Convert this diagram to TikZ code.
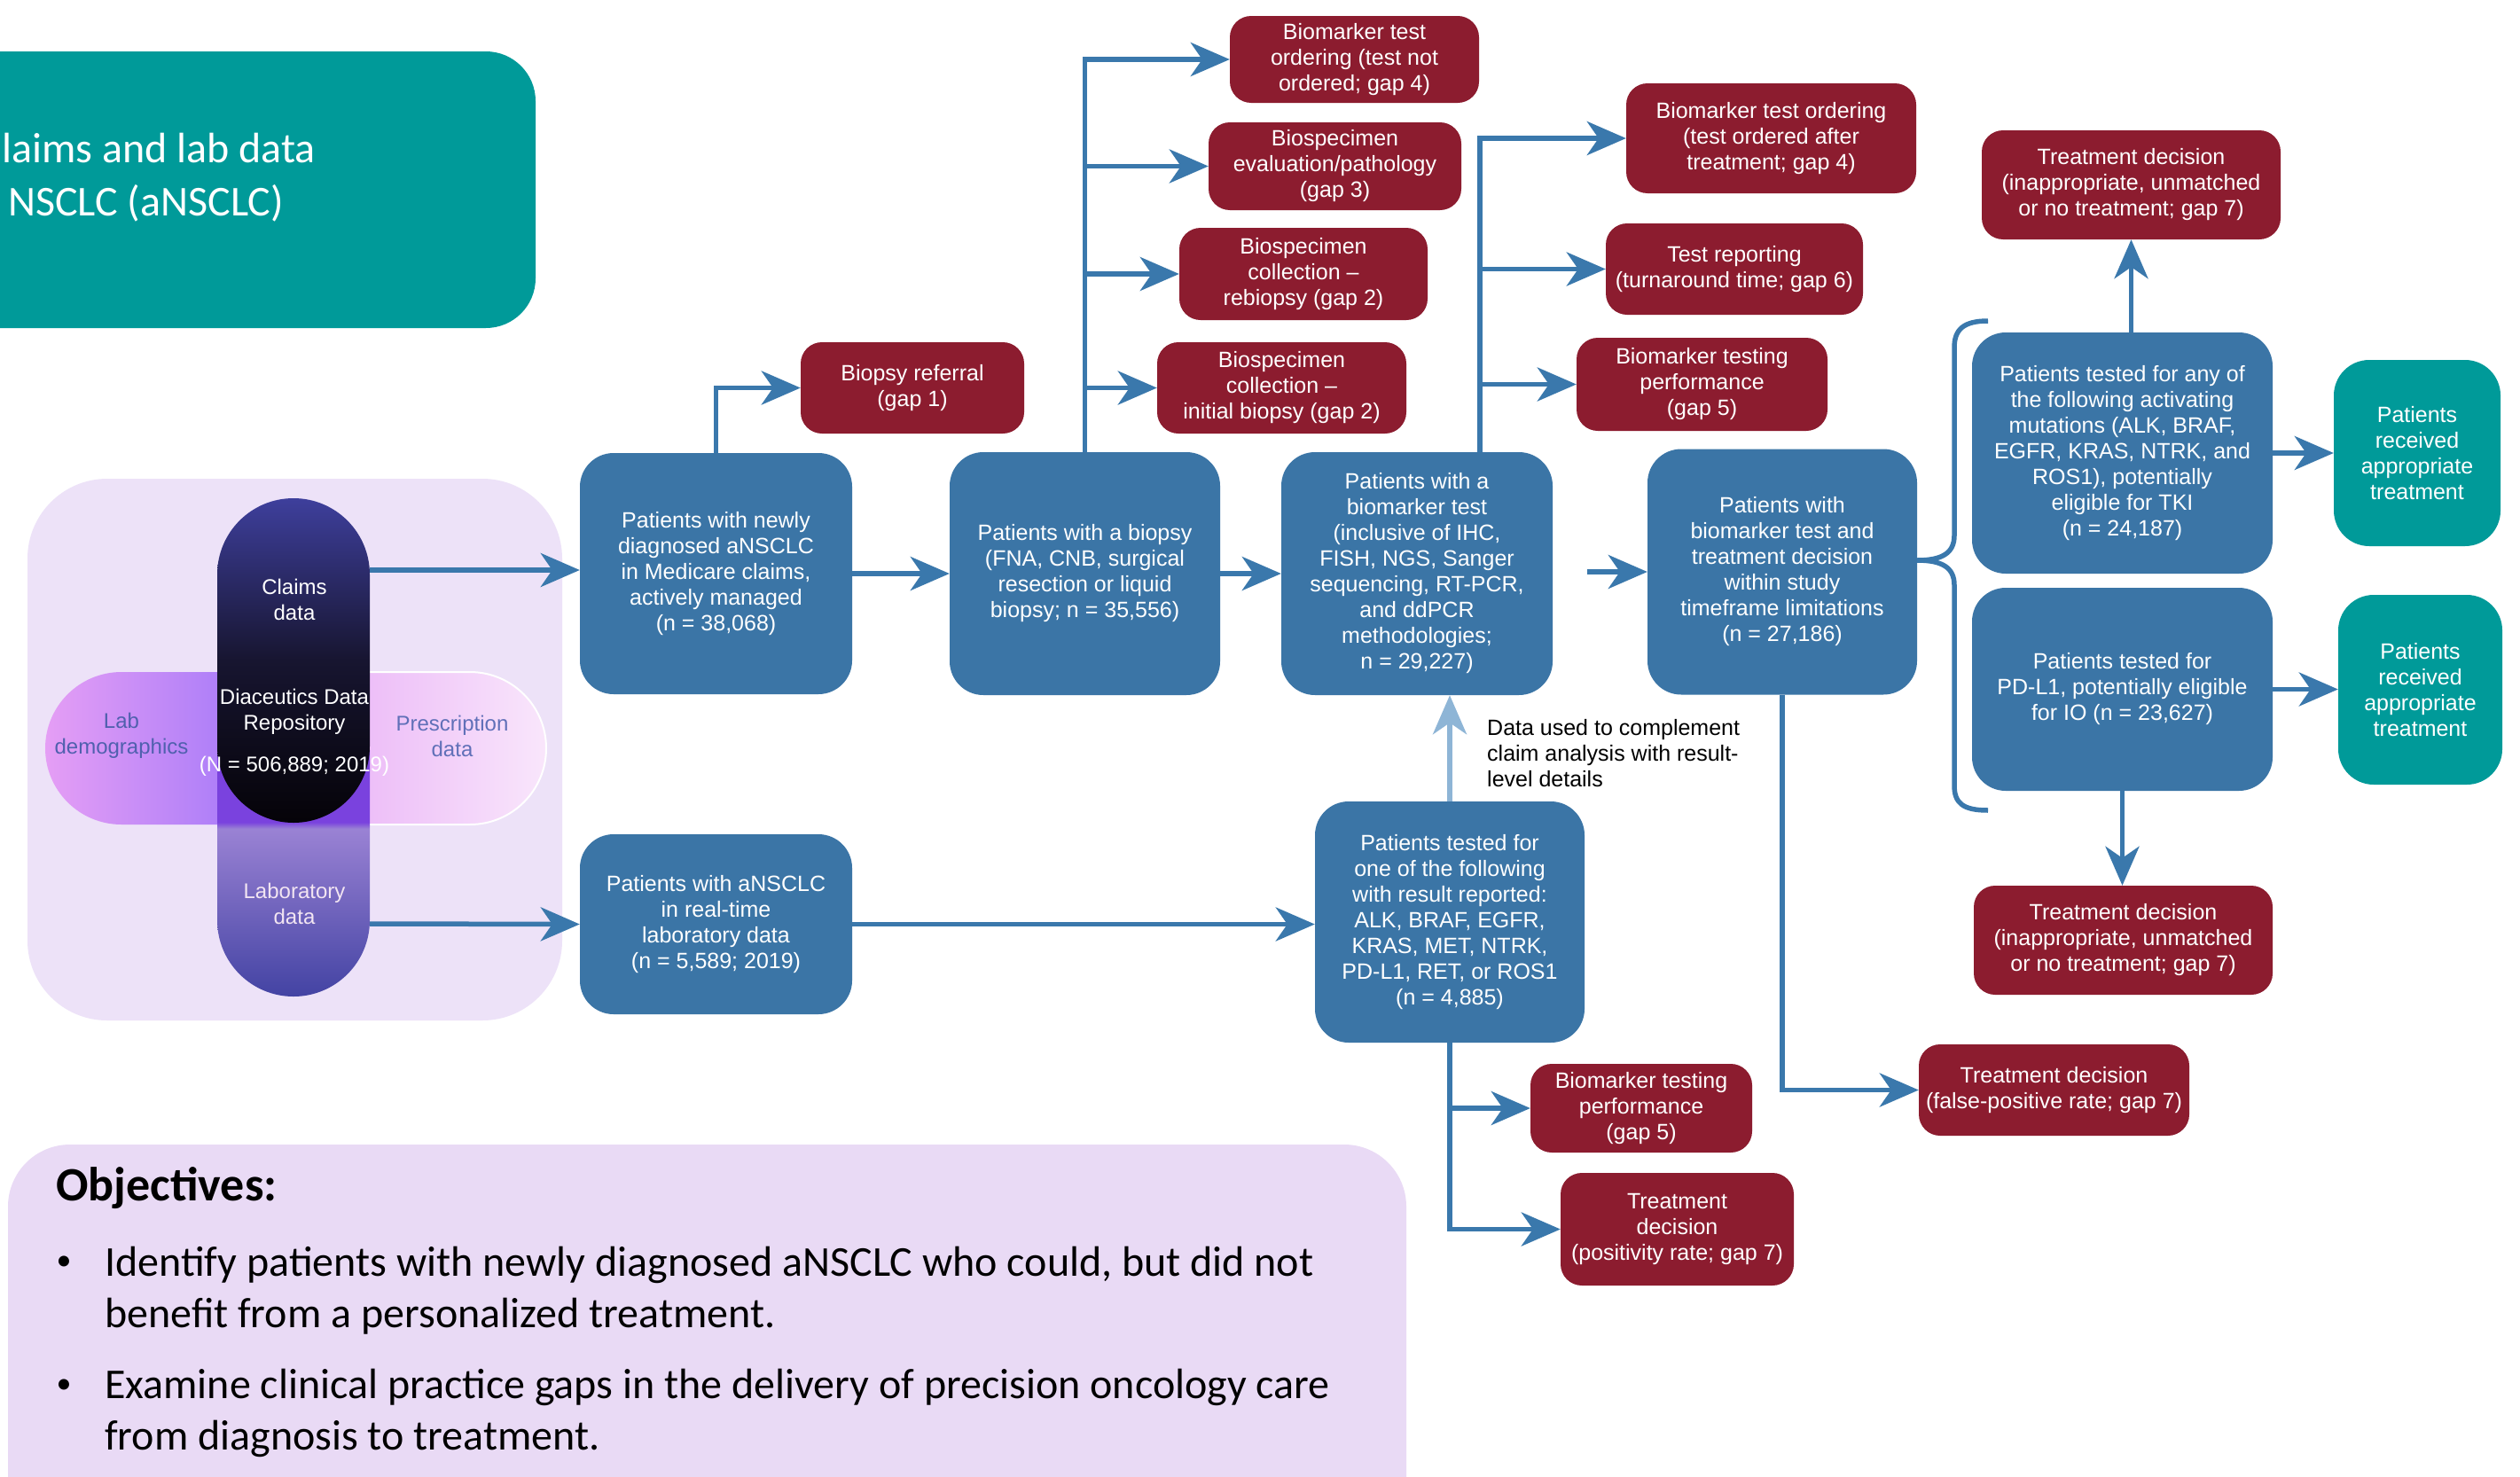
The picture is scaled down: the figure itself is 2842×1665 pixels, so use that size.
\documentclass[tikz,border=0pt]{standalone}
\usepackage{fontspec}
\setmainfont{Liberation Sans}
\newfontfamily\calibri{Carlito}
\usetikzlibrary{arrows.meta,calc}

\definecolor{boxblue}{HTML}{3B75A6}
\definecolor{arrowblue}{HTML}{3A78AC}
\definecolor{lightarrow}{HTML}{8EB5D6}
\definecolor{gapred}{HTML}{8C1C2F}
\definecolor{okteal}{HTML}{009A99}
\definecolor{panel}{HTML}{EDE2F8}
\definecolor{objbox}{HTML}{E9DAF5}
\definecolor{claimtop}{HTML}{3E3F9C}
\definecolor{claimmid}{HTML}{171530}
\definecolor{claimbot}{HTML}{050308}
\definecolor{sidetext}{HTML}{5060AE}
\definecolor{sidetextb}{HTML}{6070B8}
% horizontal pill colours
\definecolor{hA}{HTML}{E59EF5}
\definecolor{hB}{HTML}{B080F8}
\definecolor{hC}{HTML}{A070F5}
\definecolor{hD}{HTML}{EDBEF8}
\definecolor{hE}{HTML}{F9E6FB}
% laboratory pill colours
\definecolor{lA}{HTML}{4343A3}
\definecolor{lB}{HTML}{9A82D4}
\definecolor{lC}{HTML}{7A42DE}

\pgfdeclarehorizontalshading{hpill}{100bp}{color(0bp)=(hA); color(25bp)=(hA); color(42bp)=(hB); color(49.7bp)=(hC); color(49.8bp)=(hD); color(57bp)=(hD); color(75bp)=(hE); color(100bp)=(hE)}
\pgfdeclareverticalshading{labshade}{100bp}{color(0bp)=(lA); color(25bp)=(lA); color(51bp)=(lB); color(52bp)=(lC); color(75bp)=(lC); color(100bp)=(lC)}

\tikzset{
  boxtext/.style={align=center, text=white, font=\fontsize{25}{29}\selectfont, inner sep=0pt},
  bluebox/.style={boxtext, fill=boxblue, rounded corners=38pt},
  redbox/.style={boxtext, fill=gapred, rounded corners=24pt},
  tealbox/.style={boxtext, fill=okteal, rounded corners=40pt},
  pilltext/.style={align=center, font=\fontsize{24}{29}\selectfont, inner sep=0pt},
  conn/.style={draw=arrowblue, line width=5.5pt},
  arr/.style={conn, -{Stealth[length=44pt,width=38pt,inset=13pt]}},
  arrlight/.style={draw=lightarrow, line width=5.5pt, -{Stealth[length=44pt,width=38pt,inset=13pt]}},
}

\begin{document}
\begin{tikzpicture}[x=1pt,y=-1pt]
\useasboundingbox (0,0) rectangle (2842,1665);
\clip (0,0) rectangle (2842,1665);
\fill[white] (0,0) rectangle (2842,1665);

% title banner
\fill[okteal, rounded corners=56pt] (-80,58) rectangle (604,370);
\node[anchor=west, align=left, text=white, inner sep=0pt,
      font=\calibri\fontsize{48}{60}\selectfont] (title) at (2,200)
      {laims and lab data\\\hspace*{7pt}NSCLC (aNSCLC)};

% data sources panel
\fill[panel, rounded corners=90pt] (31,540) rectangle (634,1151);
\shade[shading=hpill, rounded corners=86pt] (51,758) rectangle (616,930);
\begin{scope}
  \clip (417,740) rectangle (640,950);
  \draw[white, line width=2pt, rounded corners=86pt] (51,758) rectangle (616,930);
\end{scope}
\shade[shading=labshade, rounded corners=86pt] (245,760) rectangle (417,1124);
\shade[top color=claimtop, bottom color=claimbot, middle color=claimmid, rounded corners=86pt] (245,562) rectangle (417,928);

\node[pilltext, text=white] (claimslbl) at (332,676) {Claims\\data};
\node[pilltext, text=white] (repo) at (332,803) {Diaceutics Data\\Repository};
\node[pilltext, text=white] (repon) at (332,864) {(N = 506,889; 2019)};
\node[pilltext, text=sidetext] (labdemo) at (137,830) {Lab\\demographics};
\node[pilltext, text=sidetextb] (rx) at (510,830) {Prescription\\data};
\node[pilltext, text=white!90!violet] (labdata) at (332,1019) {Laboratory\\data};

\coordinate (claimsout) at (417,643);
\coordinate (labout) at (417,1042);

% objectives panel
\fill[objbox, rounded corners=70pt] (9,1291) rectangle (1586,1760);
\node[anchor=west, inner sep=0pt, font=\calibri\bfseries\fontsize{54}{60}\selectfont] (objt) at (63,1340) {Objectives:};
\node[inner sep=0pt, font=\calibri\fontsize{34}{40}\selectfont] (bul1) at (72,1425) {\textbullet};
\node[anchor=west, align=left, inner sep=0pt, font=\calibri\fontsize{48}{58}\selectfont] (obj1) at (118,1456)
  {Identify patients with newly diagnosed aNSCLC who could, but did not\\benefit from a personalized treatment.};
\node[inner sep=0pt, font=\calibri\fontsize{34}{40}\selectfont] (bul2) at (72,1564) {\textbullet};
\node[anchor=west, align=left, inner sep=0pt, font=\calibri\fontsize{48}{58}\selectfont] (obj2) at (118,1594)
  {Examine clinical practice gaps in the delivery of precision oncology care\\from diagnosis to treatment.};

% patient cohorts
\node[bluebox, minimum width=307pt, minimum height=272pt] (b1) at (807.5,647)
  {Patients with newly\\diagnosed aNSCLC\\in Medicare claims,\\actively managed\\(n = 38,068)};
\node[bluebox, minimum width=305pt, minimum height=274pt] (b2) at (1223.5,647)
  {Patients with a biopsy\\(FNA, CNB, surgical\\resection or liquid\\biopsy; n = 35,556)};
\node[bluebox, minimum width=306pt, minimum height=274pt] (b3) at (1598,647)
  {Patients with a\\biomarker test\\(inclusive of IHC,\\FISH, NGS, Sanger\\sequencing, RT-PCR,\\and ddPCR\\methodologies;\\n = 29,227)};
\node[bluebox, minimum width=304pt, minimum height=277pt] (b4) at (2010,645)
  {Patients with\\biomarker test and\\treatment decision\\within study\\timeframe limitations\\(n = 27,186)};
\node[bluebox, minimum width=339pt, minimum height=272pt] (b5) at (2393.5,511)
  {Patients tested for any of\\the following activating\\mutations (ALK, BRAF,\\EGFR, KRAS, NTRK, and\\ROS1), potentially\\eligible for TKI\\(n = 24,187)};
\node[bluebox, minimum width=339pt, minimum height=229pt] (b6) at (2393.5,777.5)
  {Patients tested for\\PD-L1, potentially eligible\\for IO (n = 23,627)};
\node[bluebox, minimum width=307pt, minimum height=203pt] (b7) at (807.5,1042.5)
  {Patients with aNSCLC\\in real-time\\laboratory data\\(n = 5,589; 2019)};
\node[bluebox, minimum width=304pt, minimum height=272pt] (b8) at (1635,1040)
  {Patients tested for\\one of the following\\with result reported:\\ALK, BRAF, EGFR,\\KRAS, MET, NTRK,\\PD-L1, RET, or ROS1\\(n = 4,885)};

% appropriate treatment outcomes
\node[tealbox, minimum width=188pt, minimum height=210pt] (t1) at (2726,511)
  {Patients\\received\\appropriate\\treatment};
\node[tealbox, minimum width=185pt, minimum height=214pt] (t2) at (2729.5,778)
  {Patients\\received\\appropriate\\treatment};

% practice gaps
\node[redbox, minimum width=252pt, minimum height=103pt] (r1) at (1029,437.5) {Biopsy referral\\(gap 1)};
\node[redbox, minimum width=281pt, minimum height=98pt] (r2) at (1527.5,67) {Biomarker test\\ordering (test not\\ordered; gap 4)};
\node[redbox, minimum width=285pt, minimum height=99pt] (r3) at (1505.5,187.5) {Biospecimen\\evaluation/pathology\\(gap 3)};
\node[redbox, minimum width=280pt, minimum height=104pt] (r4) at (1470,309) {Biospecimen\\collection –\\rebiopsy (gap 2)};
\node[redbox, minimum width=281pt, minimum height=103pt] (r5) at (1445.5,437.5) {Biospecimen\\collection –\\initial biopsy (gap 2)};
\node[redbox, minimum width=327pt, minimum height=124pt] (r6) at (1997.5,156) {Biomarker test ordering\\(test ordered after\\treatment; gap 4)};
\node[redbox, minimum width=290pt, minimum height=103pt] (r7) at (1956,303.5) {Test reporting\\(turnaround time; gap 6)};
\node[redbox, minimum width=283pt, minimum height=105pt] (r8) at (1919.5,433.5) {Biomarker testing\\performance\\(gap 5)};
\node[redbox, minimum width=337pt, minimum height=123pt] (r9) at (2403.5,208.5) {Treatment decision\\(inappropriate, unmatched\\or no treatment; gap 7)};
\node[redbox, minimum width=337pt, minimum height=123pt] (r10) at (2394.5,1060.5) {Treatment decision\\(inappropriate, unmatched\\or no treatment; gap 7)};
\node[redbox, minimum width=305pt, minimum height=103pt] (r11) at (2316.5,1229.5) {Treatment decision\\(false-positive rate; gap 7)};
\node[redbox, minimum width=250pt, minimum height=100pt] (r12) at (1851,1250) {Biomarker testing\\performance\\(gap 5)};
\node[redbox, minimum width=263pt, minimum height=127pt] (r13) at (1891.5,1386.5) {Treatment\\decision\\(positivity rate; gap 7)};

% annotation
\node[anchor=west, align=left, inner sep=0pt, text=black, font=\fontsize{25}{29}\selectfont] (note) at (1677,850)
  {Data used to complement\\claim analysis with result-\\level details};

% connectors
\draw[arr] (claimsout) -- (claimsout -| b1.west);
\draw[arr] (labout) -- (b7.west);
\draw[arr] (b1.north) |- (r1.west);
\draw[arr] (b1.east) -- (b2.west);
\draw[arr] (b2.north) |- (r2.west);
\draw[arr] (b2.north) |- (r3.west);
\draw[arr] (b2.north) |- (r4.west);
\draw[arr] (b2.north) |- (r5.west);
\draw[arr] (b2.east) -- (b3.west);
\coordinate (b3top) at ($(b3.north)+(71,0)$);
\draw[arr] (b3top) |- (r6.west);
\draw[arr] (b3top) |- (r7.west);
\draw[arr] (b3top) |- (r8.west);
\coordinate (b3gap) at (1790,645);
\draw[arr] (b3gap) -- (b4.west);
\draw[arrlight] (b8.north) -- (b8.north |- b3.south);
\draw[arr] (b7.east) -- (b7.east -| b8.west);
\draw[arr] (b8.south) |- (r12.west);
\draw[arr] (b8.south) |- (r13.west);
\draw[arr] (b4.south) |- (r11.west);
\draw[arr] (r9.south |- b5.north) -- (r9.south);
\draw[arr] (b5.east) -- (b5.east -| t1.west);
\draw[arr] (b6.east) -- (b6.east -| t2.west);
\draw[arr] (b6.south) -- (b6.south |- r10.north);

% brace grouping the two eligibility cohorts
\draw[conn] (2242,362) .. controls (2214,362) and (2204,372) .. (2204,392)
  -- (2204,604) .. controls (2204,624) and (2190,632) .. (2162,632)
  .. controls (2190,632) and (2204,640) .. (2204,660)
  -- (2204,886) .. controls (2204,906) and (2214,914) .. (2242,914);
\end{tikzpicture}
\end{document}
